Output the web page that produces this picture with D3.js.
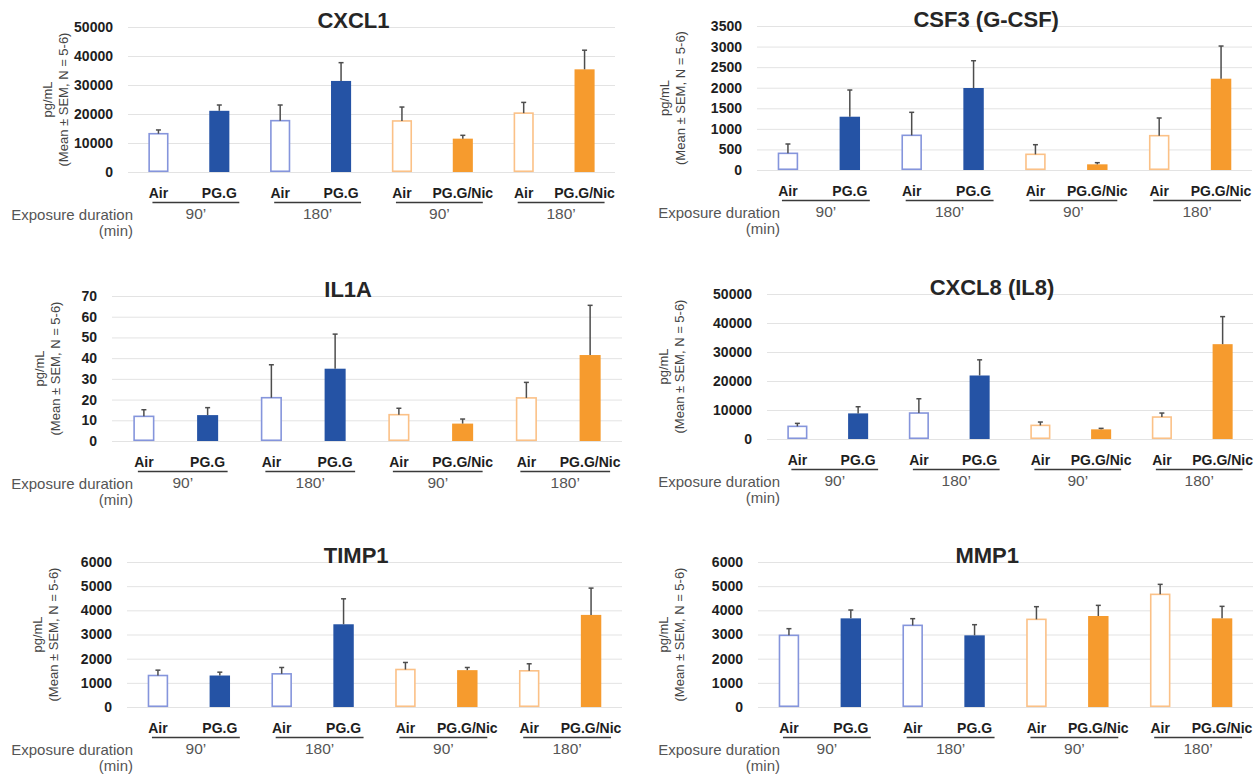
<!DOCTYPE html>
<html>
<head>
<meta charset="utf-8">
<script src="https://cdn.jsdelivr.net/npm/d3@7"></script>
<style>
  html, body { margin: 0; padding: 0; background: #fff; }
  svg { display: block; font-family: "Liberation Sans", Arial, sans-serif; }
</style>
</head>
<body>
<svg id="chart" width="1258" height="776"></svg>
<script>
// ---------- data ----------
const conditions = ["Air", "PG.G", "Air", "PG.G", "Air", "PG.G/Nic", "Air", "PG.G/Nic"];
const products   = ["PG.G", "PG.G", "PG.G", "PG.G", "PG.G/Nic", "PG.G/Nic", "PG.G/Nic", "PG.G/Nic"];
const durations  = ["90’", "180’", "90’", "180’"];
const panelTitles = ["CXCL1", "CSF3 (G-CSF)", "IL1A", "CXCL8 (IL8)", "TIMP1", "MMP1"];

const cxcl1Mean = [13200, 21100, 17700, 31400, 17600, 11500, 20300, 35400];
const cxcl1Sem  = [1300, 2000, 5400, 6300, 4800, 1150, 3700, 6600];
const csf3Mean  = [405, 1295, 843, 1993, 381, 138, 834, 2219];
const csf3Sem   = [227, 649, 559, 663, 234, 40, 430, 794];
const il1aMean  = [11.9, 12.5, 20.9, 34.9, 12.7, 8.4, 20.8, 41.5];
const il1aSem   = [3.2, 3.6, 15.9, 16.7, 3.1, 2.2, 7.5, 24.0];
const cxcl8Mean = [4360, 8830, 8950, 21900, 4700, 3330, 7570, 32700];
const cxcl8Sem  = [1030, 2300, 4930, 5400, 1150, 340, 1380, 9500];
const timp1Mean = [1303, 1303, 1372, 3423, 1552, 1525, 1497, 3811];
const timp1Sem  = [222, 138, 263, 1054, 291, 110, 291, 1109];
const mmp1Mean  = [2965, 3668, 3379, 2965, 3627, 3765, 4661, 3668];
const mmp1Sem   = [276, 345, 276, 441, 524, 441, 414, 497];

const yMax  = [50000, 3500, 70, 50000, 6000, 6000];
const yStep = [10000, 500, 10, 10000, 1000, 1000];

const yLabel1 = "pg/mL";
const yLabel2 = "(Mean ± SEM, N = 5-6)";
const expoLabel1 = "Exposure duration";
const expoLabel2 = "(min)";

// ---------- layout (positions only) ----------
const layout = [
  {x0: 128, x1: 615,  y0: 27,  y1: 172, labX: 63,  expoX: 133},
  {x0: 757, x1: 1252, y0: 26,  y1: 170, labX: 680, expoX: 780},
  {x0: 112, x1: 622,  y0: 296, y1: 441, labX: 55,  expoX: 133},
  {x0: 767, x1: 1253, y0: 294, y1: 439, labX: 679, expoX: 780},
  {x0: 127, x1: 622,  y0: 562, y1: 707, labX: 53,  expoX: 133},
  {x0: 758, x1: 1253, y0: 562, y1: 707, labX: 679, expoX: 780}
];

const means = [cxcl1Mean, csf3Mean, il1aMean, cxcl8Mean, timp1Mean, mmp1Mean];
const sems  = [cxcl1Sem, csf3Sem, il1aSem, cxcl8Sem, timp1Sem, mmp1Sem];

const colors = {
  "PG.G":     {fill: "#2553a5", light: "#8595dc"},
  "PG.G/Nic": {fill: "#f69b2e", light: "#fbc187"}
};

const svg = d3.select("#chart");

panelTitles.forEach((title, p) => {
  const L = layout[p];
  const g = svg.append("g");
  const x = d3.scaleBand().domain(d3.range(conditions.length)).range([L.x0, L.x1]).padding(0);
  const y = d3.scaleLinear().domain([0, yMax[p]]).range([L.y1, L.y0]);
  const ticks = d3.range(0, yMax[p] + yStep[p] / 2, yStep[p]);
  const bw = x.bandwidth() * 0.33;

  // gridlines
  g.append("g")
    .attr("transform", `translate(${L.x0},0)`)
    .call(d3.axisLeft(y).tickValues(ticks).tickSize(-(L.x1 - L.x0)).tickFormat(""))
    .call(s => s.select(".domain").remove())
    .call(s => s.selectAll(".tick line").attr("stroke", "#e3e3e3").attr("stroke-width", 1));

  // y tick labels
  g.append("g")
    .attr("transform", `translate(${L.x0},0)`)
    .call(d3.axisLeft(y).tickValues(ticks).tickSize(0).tickPadding(15).tickFormat(d3.format("d")))
    .call(s => s.select(".domain").remove())
    .call(s => s.selectAll(".tick text")
      .attr("font-family", "'Liberation Sans', Arial, sans-serif")
      .attr("font-size", 14).attr("font-weight", "bold").attr("fill", "#1e1e1e"));

  // bars
  const data = conditions.map((c, i) => ({i, c, prod: products[i], m: means[p][i], s: sems[p][i]}));
  g.selectAll("rect.bar").data(data).enter().append("rect")
    .attr("class", "bar")
    .attr("x", d => x(d.i) + (x.bandwidth() - bw) / 2 + (d.c === "Air" ? 0.75 : 0))
    .attr("width", d => d.c === "Air" ? bw - 1.5 : bw)
    .attr("y", d => y(d.m))
    .attr("height", d => y(0) - y(d.m) - (d.c === "Air" ? 0.75 : 0))
    .attr("fill", d => d.c === "Air" ? "#ffffff" : colors[d.prod].fill)
    .attr("stroke", d => d.c === "Air" ? colors[d.prod].light : "none")
    .attr("stroke-width", 1.6);

  // error bars (upper only)
  const cx = d => x(d.i) + x.bandwidth() / 2;
  g.selectAll("line.err").data(data).enter().append("line")
    .attr("x1", cx).attr("x2", cx)
    .attr("y1", d => y(d.m)).attr("y2", d => y(d.m + d.s))
    .attr("stroke", "#4d4d4d").attr("stroke-width", 1.5);
  g.selectAll("line.cap").data(data).enter().append("line")
    .attr("x1", d => cx(d) - 2.5).attr("x2", d => cx(d) + 2.5)
    .attr("y1", d => y(d.m + d.s)).attr("y2", d => y(d.m + d.s))
    .attr("stroke", "#4d4d4d").attr("stroke-width", 1.5);

  // category labels
  g.selectAll("text.cat").data(data).enter().append("text")
    .attr("x", cx).attr("y", L.y1 + 25.5)
    .attr("text-anchor", "middle")
    .attr("font-size", 14).attr("font-weight", "bold").attr("fill", "#1e1e1e")
    .text(d => d.c);

  // duration group underlines and labels
  durations.forEach((dur, k) => {
    const a = x(2 * k) + x.bandwidth() / 2 - 6;
    const b = x(2 * k + 1) + x.bandwidth() / 2 + 20;
    g.append("line")
      .attr("x1", a).attr("x2", b)
      .attr("y1", L.y1 + 30.5).attr("y2", L.y1 + 30.5)
      .attr("stroke", "#3a3a3a").attr("stroke-width", 1.6);
    g.append("text")
      .attr("x", (a + b) / 2).attr("y", L.y1 + 46.5)
      .attr("text-anchor", "middle")
      .attr("font-size", 15.5).attr("fill", "#555")
      .text(dur);
  });

  // exposure label
  g.append("text")
    .attr("x", L.expoX).attr("y", L.y1 + 47.5)
    .attr("text-anchor", "end").attr("font-size", 15).attr("fill", "#555")
    .text(expoLabel1);
  g.append("text")
    .attr("x", L.expoX).attr("y", L.y1 + 64)
    .attr("text-anchor", "end").attr("font-size", 15).attr("fill", "#555")
    .text(expoLabel2);

  // y label (two rotated lines)
  const cy = (L.y0 + L.y1) / 2;
  [[yLabel1, L.labX - 15.5], [yLabel2, L.labX]].forEach(([t, lx]) => {
    g.append("text")
      .attr("transform", `translate(${lx},${cy}) rotate(-90)`)
      .attr("text-anchor", "middle")
      .attr("dominant-baseline", "central")
      .attr("font-size", 13).attr("fill", "#444")
      .text(t);
  });

  // title
  g.append("text")
    .attr("x", L.x0 + 0.463 * (L.x1 - L.x0)).attr("y", L.y0 + 1)
    .attr("text-anchor", "middle")
    .attr("font-size", 22).attr("font-weight", "bold").attr("fill", "#262626")
    .text(title);
});
</script>
</body>
</html>
